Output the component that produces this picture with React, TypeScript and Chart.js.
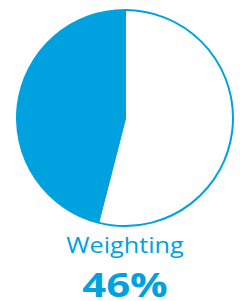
import React, { useEffect, useRef } from "react";
import { Chart, registerables } from "chart.js";

Chart.register(...registerables);

const labels = ["Other", "Weighting"];
const values = [54, 46];
const title = "Weighting";
const valueLabel = "46%";

const BLUE = "#00A1DF";

export default function App() {
  const ref = useRef<HTMLCanvasElement | null>(null);
  useEffect(() => {
    if (!ref.current) return;
    const chart = new Chart(ref.current, {
      type: "pie",
      data: {
        labels,
        datasets: [
          {
            data: values,
            backgroundColor: ["#FFFFFF", BLUE],
            borderColor: BLUE,
            borderWidth: 2,
            hoverOffset: 0,
          },
        ],
      },
      options: {
        animation: false,
        responsive: false,
        maintainAspectRatio: false,
        layout: { padding: 0 },
        plugins: { legend: { display: false }, tooltip: { enabled: false } },
      },
    });
    return () => chart.destroy();
  }, []);
  return (
    <div style={{ position: "absolute", left: 0, top: 0, width: 240, height: 301, background: "#fff" }}>
      <canvas ref={ref} width={218} height={218} style={{ position: "absolute", left: 16, top: 9, width: 218, height: 218 }} />
      <div
        style={{
          position: "absolute",
          left: 0,
          width: 250,
          top: 235,
          textAlign: "center",
          fontFamily: "'Open Sans', sans-serif",
          fontSize: 21,
          lineHeight: "21px",
          color: BLUE,
          transform: "scaleX(1.2)",
          transformOrigin: "125px 0",
        }}
      >
        {title}
      </div>
      <div
        style={{
          position: "absolute",
          left: 0,
          width: 250,
          top: 267,
          textAlign: "center",
          fontFamily: "'Open Sans', sans-serif",
          fontSize: 34,
          fontWeight: 700,
          lineHeight: "34px",
          color: BLUE,
          transform: "scaleX(1.23)",
          transformOrigin: "125px 0",
        }}
      >
        {valueLabel}
      </div>
    </div>
  );
}
